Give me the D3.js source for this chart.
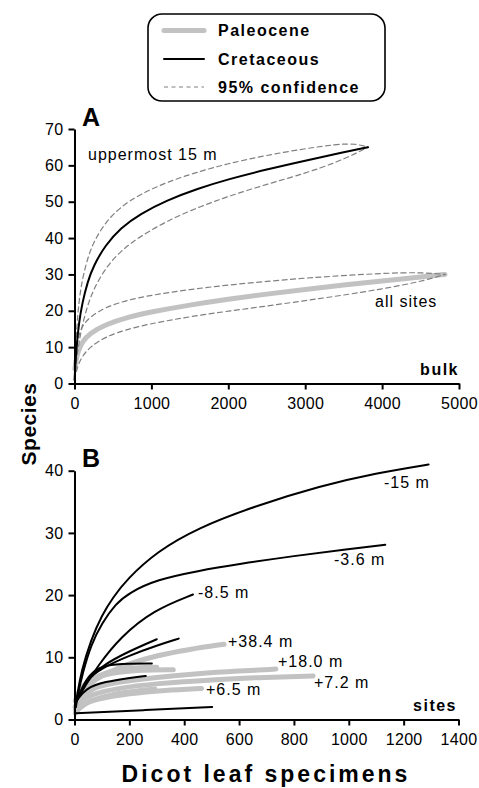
<!DOCTYPE html>
<html>
<head>
<meta charset="utf-8">
<script src="https://cdn.jsdelivr.net/npm/d3@7"></script>
<style>
  body { margin: 0; background: #fff; }
  text { font-family: "Liberation Sans", Arial, Helvetica, sans-serif; }
</style>
</head>
<body>
<svg width="479" height="788"></svg>
<script>
// panel A : bulk rarefaction (specimens, species)
const bulkCret = [[1,1],[10,5],[30,11],[60,17],[100,22],[170,28],[250,32.5],[400,38],[600,42.8],[850,46.6],[1200,50.4],[1600,53.6],[2000,56.2],[2500,58.9],[3000,61.3],[3500,63.6],[3817,65]];
const bulkCretHi = [[1,1],[10,7],[30,16],[60,23],[100,28.5],[170,34.5],[250,39],[400,44.3],[600,48.6],[850,52],[1200,55.4],[1600,58.2],[2000,60.5],[2500,62.8],[3000,64.6],[3400,65.8],[3650,66],[3817,65]];
const bulkCretLo = [[1,1],[10,3.5],[30,7],[60,11.5],[100,16],[170,21.5],[250,26],[400,31.7],[600,36.5],[850,40.4],[1200,44.7],[1600,48.4],[2000,51.5],[2500,54.8],[3000,57.8],[3400,60.8],[3650,63.2],[3817,65]];
const bulkPal = [[5,4],[20,6.5],[50,9],[100,11.5],[200,13.8],[400,16.2],[700,18.3],[1000,19.7],[1500,21.6],[2000,23.2],[2500,24.6],[3000,25.9],[3500,27.1],[4000,28.2],[4500,29.3],[4818,30]];
const bulkPalHi = [[1,1],[10,6],[30,10.5],[60,13.5],[100,15.8],[200,18.3],[400,21],[700,23],[1000,24.3],[1500,25.9],[2000,27.1],[2500,28.1],[3000,29],[3500,29.7],[4000,30.3],[4500,30.6],[4818,30]];
const bulkPalLo = [[1,1],[20,3],[50,5.2],[100,7.5],[200,10],[400,12.9],[700,15],[1000,16.5],[1500,18.4],[2000,19.9],[2500,21.3],[3000,22.8],[3500,24.3],[4000,26],[4500,28],[4818,30]];

// panel B : single sites
const siteCret = [
  [[3,2],[10,4],[25,7.8],[60,12.8],[100,16.8],[140,19.6],[190,22.5],[300,27],[450,30.8],[650,34.2],[900,37.6],[1100,39.6],[1291,41]],   // -15 m
  [[5,2],[12,4],[30,7.5],[60,12],[100,15.5],[150,18.6],[200,20.4],[300,22.5],[450,23.9],[600,25],[800,26.3],[1000,27.4],[1133,28.1]],  // -3.6 m
  [[8,3],[40,5.5],[83,8.5],[168,13.3],[289,17.6],[432,20.1]],   // -8.5 m
  [[8,3],[40,6],[100,8.7],[200,11],[300,12.9]],
  [[8,3],[40,6.3],[100,8.3],[200,10.3],[300,11.9],[380,13]],
  [[8,3],[30,5.5],[64,7.7],[112,8.8],[200,9],[282,9]],
  [[8,3],[39,5],[112,6.1],[200,6.7],[260,7]],
  [[5,1],[250,1.5],[502,2]]
];
const sitePal = [
  [[3,2],[20,4],[60,6],[120,7.5],[200,9],[300,10.3],[420,11.3],[545,12.1]],   // +38.4 m
  [[3,2],[20,3.5],[60,5],[150,6],[300,6.8],[450,7.4],[600,7.8],[734,8.1]],     // +18.0 m
  [[3,2],[20,3],[60,4],[150,5],[300,5.8],[500,6.4],[700,6.8],[870,7]],         // +7.2 m
  [[3,1.5],[30,2.5],[80,3.3],[200,4.2],[330,4.7],[463,5]],                     // +6.5 m
  [[3,3],[20,5],[60,6.5],[130,7.5],[250,8],[360,8]],
  [[5,3],[30,5.5],[100,7.5],[200,8.3],[300,8.4]],
  [[3,1],[30,2.5],[100,3.7],[200,4.5],[293,4.9]]
];

const xTicksA = [0, 1000, 2000, 3000, 4000, 5000];
const yTicksA = [0, 10, 20, 30, 40, 50, 60, 70];
const xTicksB = [0, 200, 400, 600, 800, 1000, 1200, 1400];
const yTicksB = [0, 10, 20, 30, 40];

const svg = d3.select("svg");
const GRAY = "#c2c2c2", DASH = "#808080";

const xA = d3.scaleLinear().domain([0, 5000]).range([74.5, 459]);
const yA = d3.scaleLinear().domain([0, 70]).range([383.5, 129]);
const xB = d3.scaleLinear().domain([0, 1400]).range([74.5, 458.5]);
const yB = d3.scaleLinear().domain([0, 40]).range([719.5, 470.7]);

function drawAxes(x, y, xt, yt) {
  const gx = svg.append("g").attr("transform", `translate(0,${y(0)})`)
    .call(d3.axisBottom(x).tickValues(xt).tickFormat(d3.format("d")).tickSize(6).tickSizeOuter(0).tickPadding(8));
  const gy = svg.append("g").attr("transform", `translate(${x(0)},0)`)
    .call(d3.axisLeft(y).tickValues(yt).tickFormat(d3.format("d")).tickSize(6).tickSizeOuter(0).tickPadding(5));
  [gx, gy].forEach(g => {
    g.select(".domain").attr("stroke", "#000").attr("stroke-width", 2);
    g.selectAll(".tick line").attr("stroke", "#000").attr("stroke-width", 2);
    g.selectAll(".tick text").attr("font-size", 16).attr("fill", "#000")
      .attr("font-family", "Liberation Sans, Arial, sans-serif").attr("letter-spacing", 0.3);
  });
}

// smooth curves through the read points
function drawLine(x, y, pts, color, w, dash) {
  const line = d3.line().x(d => x(d[0])).y(d => y(d[1])).curve(d3.curveBasis);
  svg.append("path").datum(pts).attr("d", line)
    .attr("fill", "none").attr("stroke", color).attr("stroke-width", w)
    .attr("stroke-linecap", "round").attr("stroke-linejoin", "round")
    .attr("stroke-dasharray", dash || null);
}

// ---- panel A
drawLine(xA, yA, bulkPal, GRAY, 5);
[bulkCretHi, bulkCretLo, bulkPalHi, bulkPalLo].forEach(c => drawLine(xA, yA, c, DASH, 1.2, "5,3.5"));
drawLine(xA, yA, bulkCret, "#000", 2);
drawAxes(xA, yA, xTicksA, yTicksA);

// ---- panel B
sitePal.forEach(c => drawLine(xB, yB, c, GRAY, 5));
siteCret.forEach(c => drawLine(xB, yB, c, "#000", 2));
drawAxes(xB, yB, xTicksB, yTicksB);

function label(x, y, txt, opts) {
  const o = opts || {};
  svg.append("text").attr("x", x).attr("y", y).text(txt)
    .attr("font-size", o.size || 16)
    .attr("font-weight", o.bold ? "bold" : "normal")
    .attr("letter-spacing", o.ls != null ? o.ls : 1)
    .attr("text-anchor", o.anchor || "start")
    .attr("fill", "#000");
}

// annotations
label(82, 126, "A", { size: 25, bold: true, ls: 0 });
label(82, 467, "B", { size: 25, bold: true, ls: 0 });
label(88, 160, "uppermost 15 m");
label(375, 307, "all sites");
label(459, 375, "bulk", { bold: true, ls: 1.5, anchor: "end" });
label(457, 711, "sites", { bold: true, ls: 1.5, anchor: "end" });
label(384, 488, "-15 m");
label(334, 565, "-3.6 m");
label(198, 598, "-8.5 m");
label(228, 647, "+38.4 m");
label(278, 667, "+18.0 m");
label(314, 688, "+7.2 m");
label(206, 695, "+6.5 m");

// axis titles
label(266, 782, "Dicot leaf specimens", { size: 23, bold: true, ls: 3, anchor: "middle" });
svg.append("text").attr("transform", "translate(36,424) rotate(-90)")
  .attr("text-anchor", "middle").attr("font-size", 21).attr("font-weight", "bold")
  .attr("letter-spacing", 0.5).text("Species");

// legend
const leg = svg.append("g");
leg.append("rect").attr("x", 148).attr("y", 14).attr("width", 237).attr("height", 87)
  .attr("rx", 14).attr("fill", "#fff").attr("stroke", "#000").attr("stroke-width", 1.6);
const legItems = [
  { name: "Paleocene", color: GRAY, w: 5, dash: null, y: 30.5 },
  { name: "Cretaceous", color: "#000", w: 2, dash: null, y: 59 },
  { name: "95% confidence", color: DASH, w: 1.2, dash: "4,3.5", y: 87 }
];
legItems.forEach(it => {
  leg.append("line").attr("x1", 164).attr("x2", 204).attr("y1", it.y).attr("y2", it.y)
    .attr("stroke", it.color).attr("stroke-width", it.w).attr("stroke-dasharray", it.dash)
    .attr("stroke-linecap", it.dash ? "butt" : "round");
  leg.append("text").attr("x", 218).attr("y", it.y + 5.5).text(it.name)
    .attr("font-size", 16).attr("font-weight", "bold").attr("letter-spacing", 1.5);
});
</script>
</body>
</html>
